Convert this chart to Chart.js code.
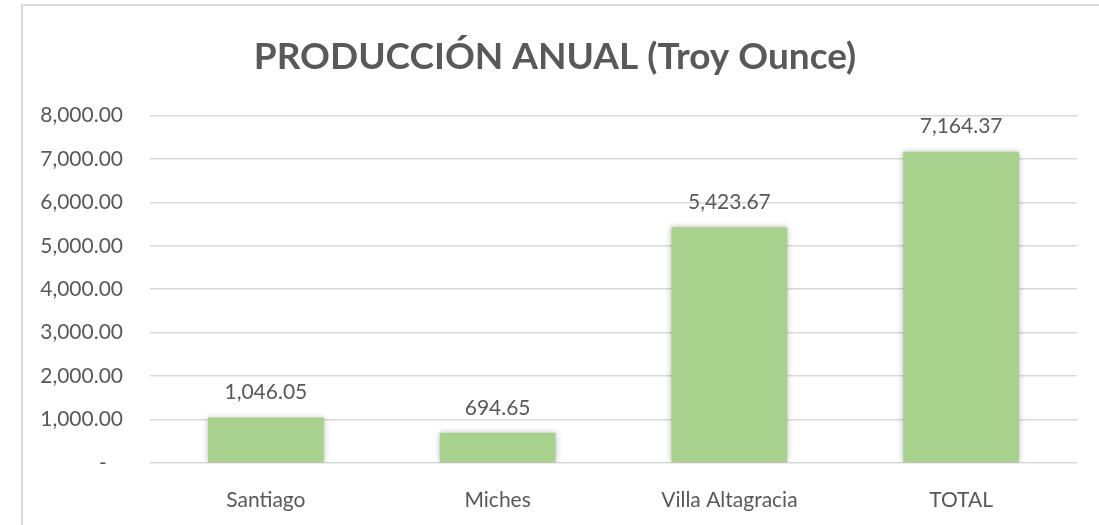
<!DOCTYPE html>
<html lang="es">
<head>
<meta charset="UTF-8">
<title>PRODUCCIÓN ANUAL (Troy Ounce)</title>
<style>
    body { margin: 0; background: #fff; }
    #wrap { position: relative; width: 1099px; height: 525px; overflow: hidden; }
    #frame {
        position: absolute; left: 21px; top: 4px; right: -10px; bottom: -10px;
        border-left: 2px solid #d9d9d9; border-top: 2px solid #d9d9d9;
    }
    #chart { position: absolute; left: 0; top: 0; }
</style>
</head>
<body>
<div id="wrap">
    <div id="frame"></div>
    <canvas id="chart" width="1099" height="525"></canvas>
</div>
<script src="https://cdn.jsdelivr.net/npm/chart.js"></script>
<script>
    const categories = ['Santiago', 'Miches', 'Villa Altagracia', 'TOTAL'];
    const production = [1046.05, 694.65, 5423.67, 7164.37];
    const yTicks = [0, 1000, 2000, 3000, 4000, 5000, 6000, 7000, 8000];

    const textColor = '#595959';
    const fontFamily = 'Lato, "Open Sans", sans-serif';

    function fmt(v) {
        return v.toLocaleString('en-US', { minimumFractionDigits: 2, maximumFractionDigits: 2 });
    }

    // sombra suave en las barras + etiquetas de valor encima
    const barExtras = {
        id: 'barExtras',
        beforeDatasetsDraw(chart) {
            const ctx = chart.ctx;
            ctx.save();
            ctx.shadowColor = 'rgba(0,0,0,0.28)';
            ctx.shadowBlur = 6;
        },
        afterDatasetsDraw(chart) {
            const ctx = chart.ctx;
            ctx.restore();
            ctx.save();
            ctx.font = '21px ' + fontFamily;
            ctx.fillStyle = textColor;
            ctx.textAlign = 'center';
            ctx.textBaseline = 'middle';
            const meta = chart.getDatasetMeta(0);
            meta.data.forEach((bar, i) => {
                ctx.fillText(fmt(production[i]), bar.x, bar.y - 25);
            });
            ctx.restore();
        }
    };

    new Chart(document.getElementById('chart'), {
        type: 'bar',
        data: {
            labels: categories,
            datasets: [{
                data: production,
                backgroundColor: '#a9d18e',
                borderWidth: 0,
                categoryPercentage: 1,
                barPercentage: 0.5
            }]
        },
        options: {
            responsive: false,
            animation: false,
            layout: { padding: { left: 33, right: 22, top: 0, bottom: 0 } },
            plugins: {
                legend: { display: false },
                tooltip: { enabled: false },
                title: {
                    display: true,
                    text: 'PRODUCCIÓN ANUAL (Troy Ounce)',
                    color: textColor,
                    font: { family: fontFamily, size: 37, weight: 'bold', lineHeight: 1.2 },
                    padding: { top: 35, bottom: 36 }
                }
            },
            scales: {
                x: {
                    grid: { display: false, drawTicks: false },
                    border: { display: false },
                    ticks: { color: textColor, font: { family: fontFamily, size: 21 }, padding: 25 },
                    afterFit(s) { s.height = 62; }
                },
                y: {
                    min: 0,
                    max: 8000,
                    grid: { color: '#d9d9d9', lineWidth: 1.5, drawTicks: false },
                    border: { display: false },
                    afterBuildTicks(s) { s.ticks = yTicks.map(v => ({ value: v })); },
                    ticks: {
                        color: textColor,
                        font: { family: fontFamily, size: 21 },
                        padding: 27,
                        callback: v => v === 0 ? '-   ' : fmt(v)
                    },
                    afterFit(s) { s.width = 117; }
                }
            }
        },
        plugins: [barExtras]
    });
</script>
</body>
</html>
